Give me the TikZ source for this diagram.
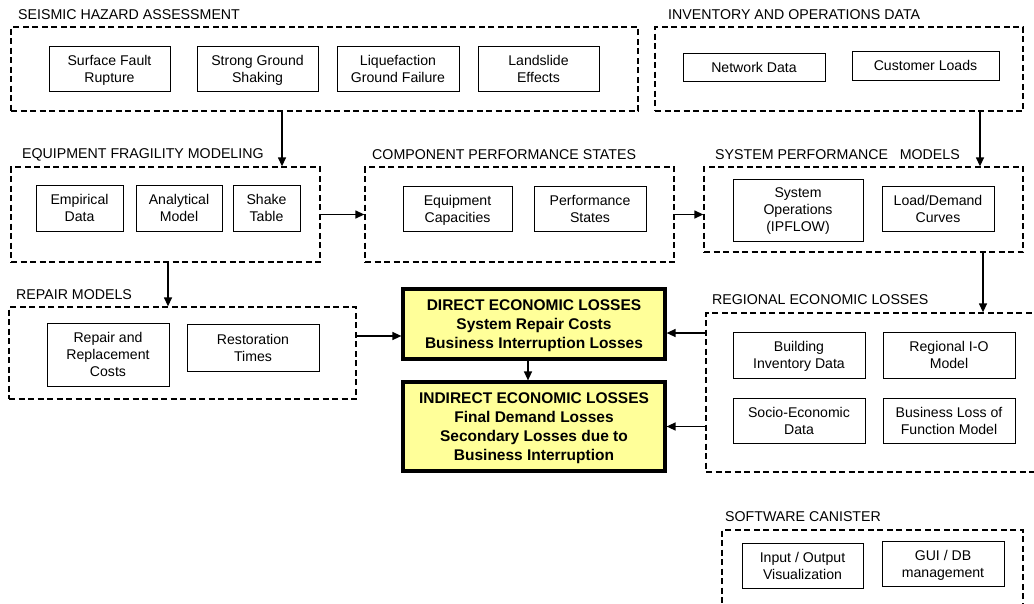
\documentclass[tikz,border=0pt]{standalone}
\usepackage{fontspec}
\setmainfont{Liberation Sans}
\usepackage{xcolor}
\usetikzlibrary{arrows.meta}
\definecolor{lossyellow}{HTML}{FFFF99}

\begin{document}
\begin{tikzpicture}[x=1pt, y=-1pt,
    every node/.style={align=center, font=\fontsize{14.1}{17}\selectfont},
    item/.style={draw, line width=0.9pt, inner sep=1pt, text depth=-4pt},
    itemline/.style={draw, line width=0.9pt, inner sep=1pt},
    group/.style={draw, line width=1.3pt, dash pattern=on 6pt off 3.5pt},
    title/.style={anchor=west, inner sep=0pt, font=\fontsize{14.2}{17}\selectfont},
    loss/.style={draw, line width=3.2pt, fill=lossyellow, inner sep=1pt, font=\fontsize{15.5}{19}\selectfont\bfseries, text depth=-3.5pt},
    arr/.style={line width=1.3pt, -{Triangle[length=9pt,width=8pt]}}]
				\clip (0,0) rectangle (1034,603);
				% seismic hazard
				\node[title] (tseis) at (18,15) {SEISMIC HAZARD ASSESSMENT};
				\node[group, minimum width=627, minimum height=84] (seis) at (324.5,69) {};
				\node[item, minimum width=121, minimum height=45] (fault) at (109.5,68.5) {Surface Fault\\Rupture};
				\node[item, minimum width=121, minimum height=45] (shaking) at (257.5,68.5) {Strong Ground\\Shaking};
				\node[item, minimum width=122, minimum height=45] (liquef) at (398,68.5) {Liquefaction\\Ground Failure};
				\node[item, minimum width=121, minimum height=45] (landslide) at (538.5,68.5) {Landslide\\Effects};
				% inventory
				\node[title] (tinv) at (668,15) {INVENTORY AND OPERATIONS DATA};
				\node[group, minimum width=368, minimum height=84] (inv) at (839,69) {};
				\node[itemline, minimum width=142, minimum height=28] (network) at (754,67) {Network Data};
				\node[itemline, minimum width=147, minimum height=29] (customer) at (925.5,65.5) {Customer Loads};
				% fragility
				\node[title] (tfrag) at (22,155) {EQUIPMENT FRAGILITY MODELING};
				\node[group, minimum width=309, minimum height=95] (frag) at (165.5,214.5) {};
				\node[item, minimum width=87, minimum height=46] (empirical) at (79.5,208) {Empirical\\Data};
				\node[item, minimum width=86, minimum height=46] (analytical) at (179,208) {Analytical\\Model};
				\node[item, minimum width=67, minimum height=46] (shake) at (266.5,208) {Shake\\Table};
				% component states
				\node[title] (tcomp) at (372,155) {COMPONENT PERFORMANCE STATES};
				\node[group, minimum width=309, minimum height=95] (comp) at (519.5,214.5) {};
				\node[item, minimum width=109, minimum height=45] (capac) at (457.5,208.5) {Equipment\\Capacities};
				\node[item, minimum width=112, minimum height=45] (states) at (590,208.5) {Performance\\States};
				% system performance
				\node[title] (tsys) at (715,155) {SYSTEM PERFORMANCE\ \ \ MODELS};
				\node[group, minimum width=319, minimum height=85] (sys) at (863.5,209.5) {};
				\node[item, minimum width=130, minimum height=62] (ipflow) at (798,210) {System\\Operations\\(IPFLOW)};
				\node[item, minimum width=112, minimum height=45] (demand) at (938,208.5) {Load/Demand\\Curves};
				% repair
				\node[title] (trep) at (16,295) {REPAIR MODELS};
				\node[group, minimum width=347, minimum height=92] (repair) at (182.5,353) {};
				\node[item, minimum width=122, minimum height=63] (costs) at (108,354.5) {Repair and\\Replacement\\Costs};
				\node[item, minimum width=132, minimum height=47] (restore) at (253,347.5) {Restoration\\Times};
				% losses
				\node[loss, minimum width=262, minimum height=70] (direct) at (534,324) {DIRECT ECONOMIC LOSSES\\System Repair Costs\\Business Interruption Losses};
				\node[loss, minimum width=262, minimum height=89] (indirect) at (534,426.5) {INDIRECT ECONOMIC LOSSES\\Final Demand Losses\\Secondary Losses due to\\Business Interruption};
				% regional
				\node[title] (treg) at (712,300) {REGIONAL ECONOMIC LOSSES};
				\node[group, minimum width=354, minimum height=159] (regional) at (883,392.5) {};
				\node[item, minimum width=132, minimum height=46] (building) at (799,355) {Building\\Inventory Data};
				\node[item, minimum width=132, minimum height=46] (regio) at (949,355) {Regional I-O\\Model};
				\node[item, minimum width=132, minimum height=45] (socio) at (799,420.5) {Socio-Economic\\Data};
				\node[item, minimum width=132, minimum height=45] (bizloss) at (949,420.5) {Business Loss of\\Function Model};
				% software
				\node[title] (tsoft) at (725,517) {SOFTWARE CANISTER};
				\node[group, minimum width=301, minimum height=110] (soft) at (872.5,585) {};
				\node[item, minimum width=121, minimum height=45] (visual) at (802.5,565.5) {Input / Output\\Visualization};
				\node[item, minimum width=122, minimum height=45] (gui) at (943,563.5) {GUI / DB\\management};
				% arrows
				\draw[arr] ([xshift=-42.5pt]seis.south) -- ([xshift=-42.5pt]seis.south |- frag.north);
				\draw[arr] ([xshift=141pt]inv.south) -- ([xshift=141pt]inv.south |- sys.north);
				\draw[arr] (frag.east) -- (comp.west);
				\draw[arr] (comp.east) -- (comp.east -| sys.west);
				\draw[arr] ([xshift=119.5pt]sys.south) -- ([xshift=119.5pt]sys.south |- regional.north);
				\draw[arr] ([xshift=2.5pt]frag.south) -- ([xshift=2.5pt]frag.south |- repair.north);
				\draw[arr] ([yshift=17pt]repair.east) -- ([yshift=17pt]repair.east -| direct.west);
				\draw[arr] ([xshift=-6pt]direct.south) -- ([xshift=-6pt]indirect.north);
				\draw[arr] ([yshift=-9pt]direct.east -| regional.west) -- ([yshift=-9pt]direct.east);
				\draw[arr] (indirect.east -| regional.west) -- (indirect.east);
			\end{tikzpicture}
\end{document}
